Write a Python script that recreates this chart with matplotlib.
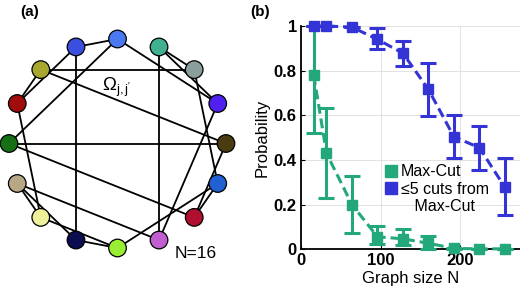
import numpy as np
import matplotlib
matplotlib.use('Agg')
import matplotlib.pyplot as plt
from matplotlib.patches import Circle
from matplotlib.lines import Line2D

plt.rcParams['font.family'] = ['Liberation Sans', 'DejaVu Sans']
plt.rcParams['mathtext.fontset'] = 'custom'
plt.rcParams['mathtext.rm'] = 'Liberation Sans'
plt.rcParams['mathtext.it'] = 'Liberation Sans'

# ---- panel (a): N=16 graph ----
node_colors = ['#4a78f0', '#3a4ee0', '#a8a830', '#a00c0c', '#157015', '#b8a888',
               '#eef09a', '#0c0c50', '#99ee33', '#c060d0', '#b01030', '#2060d0',
               '#4a3c10', '#5020f0', '#8a9e9c', '#40b090']
edges = [(1, 2), (1, 5), (1, 14), (2, 4), (2, 8), (3, 4), (3, 13), (3, 15),
         (4, 7), (5, 11), (5, 13), (6, 7), (6, 8), (6, 10), (7, 9), (8, 9),
         (9, 12), (10, 14), (10, 16), (11, 12), (11, 13), (12, 15), (14, 16),
         (15, 16)]

# ---- panel (b): probability vs graph size ----
graph_size = [16, 32, 64, 96, 128, 160, 192, 224, 256]
maxcut_p = [0.78, 0.43, 0.20, 0.056, 0.047, 0.027, 0.004, 0.002, 0.002]
maxcut_lo = [0.52, 0.23, 0.072, 0.025, 0.02, 0.0, 0.0, 0.0, 0.0]
maxcut_hi = [1.0, 0.634, 0.328, 0.104, 0.09, 0.06, 0.004, 0.002, 0.002]
near_p = [1.0, 1.0, 0.995, 0.94, 0.878, 0.716, 0.504, 0.455, 0.278]
near_lo = [1.0, 1.0, 0.995, 0.896, 0.82, 0.597, 0.407, 0.355, 0.153]
near_hi = [1.0, 1.0, 0.995, 0.99, 0.934, 0.833, 0.601, 0.553, 0.407]

green = '#22a87a'
blue = '#3434d6'

fig = plt.figure(figsize=(5.2, 2.93), dpi=100)

# graph panel in pixel coordinates
axa = fig.add_axes([0, 0, 0.5, 1])
axa.set_xlim(0, 260)
axa.set_ylim(293, 0)
axa.axis('off')

cx, cy, rx, ry = 117.5, 143.5, 108.5, 104.5
ang = np.deg2rad(90 + 22.5 * np.arange(len(node_colors)))
px = cx + rx * np.cos(ang)
py = cy - ry * np.sin(ang)
for a, b in edges:
    axa.plot([px[a - 1], px[b - 1]], [py[a - 1], py[b - 1]], color='black', lw=1.3, zorder=1)
for i, c in enumerate(node_colors):
    axa.add_patch(Circle((px[i], py[i]), 8.8, facecolor=c, edgecolor='black', lw=0.9, zorder=2))

axa.text(102, 87, r"$\Omega_{\rm j,j'}$", fontsize=13.5, ha='left', va='center')
axa.text(175, 253, 'N=16', fontsize=12.5, ha='left', va='center')
fig.text(20 / 520, 1 - 12 / 293, '(a)', fontsize=11, fontweight='bold', ha='left', va='center')
fig.text(250 / 520, 1 - 12 / 293, '(b)', fontsize=11, fontweight='bold', ha='left', va='center')

# probability panel
ax = fig.add_axes([301 / 520, 1 - 249.3 / 293, 219 / 520, 223.3 / 293])
g = np.array(graph_size)
for p, lo, hi, c in [(maxcut_p, maxcut_lo, maxcut_hi, green), (near_p, near_lo, near_hi, blue)]:
    p = np.array(p)
    yerr = [p - np.array(lo), np.array(hi) - p]
    eb = ax.errorbar(g, p, yerr=yerr, fmt='s', ls=(0, (3.2, 1.6)), color=c, lw=2.2,
                     ms=7.5, elinewidth=2.2, capsize=5.5, capthick=2.2, clip_on=False, zorder=3)
    for art in eb.get_children():
        art.set_clip_on(False)

ax.set_xlim(0, 275)
ax.set_ylim(0, 1)
ax.set_xticks([0, 100, 200])
ax.set_yticks([0, 0.2, 0.4, 0.6, 0.8, 1])
ax.set_yticklabels(['0', '0.2', '0.4', '0.6', '0.8', '1'])
ax.grid(True, color='#dddddd', lw=0.6)
ax.set_axisbelow(True)
for s in ['top', 'right']:
    ax.spines[s].set_visible(False)
for s in ['left', 'bottom']:
    ax.spines[s].set_linewidth(1.3)
ax.tick_params(direction='in', length=3, labelsize=12, pad=3)
for t in ax.get_xticklabels() + ax.get_yticklabels():
    t.set_fontweight('bold')
ax.set_xlabel('Graph size N', fontsize=12, labelpad=2)
ax.set_ylabel('Probability', fontsize=12, labelpad=3)

handles = [Line2D([], [], marker='s', ls='none', color=green, ms=8),
           Line2D([], [], marker='s', ls='none', color=blue, ms=8),
           Line2D([], [], marker='none', ls='none')]
ax.legend(handles, ['Max-Cut', '\u22645 cuts from', '   Max-Cut'], loc='upper left',
          bbox_to_anchor=(0.39, 0.38), frameon=False, fontsize=11.5, handlelength=0.6,
          handletextpad=0.3, labelspacing=0.15, borderaxespad=0, borderpad=0)

fig.savefig('out.png', dpi=100)
